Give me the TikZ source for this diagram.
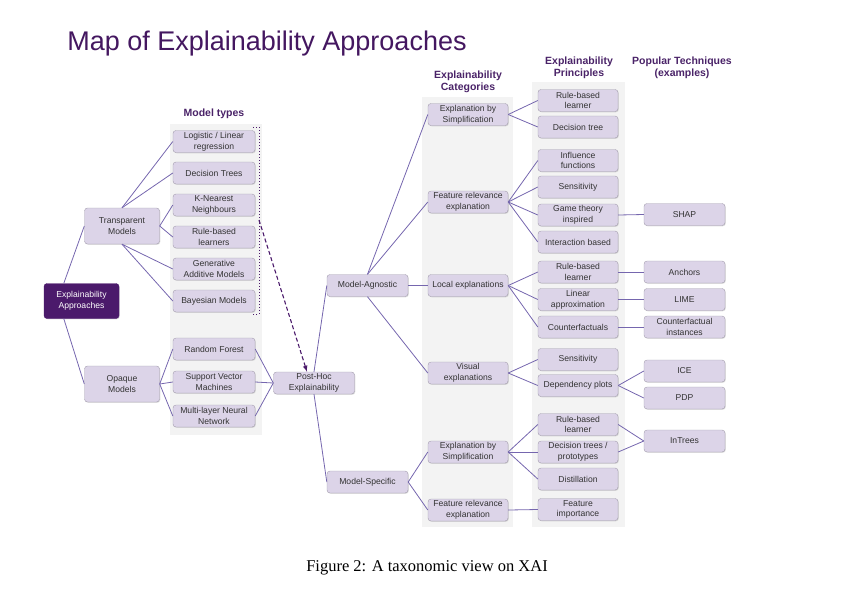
\documentclass[tikz,border=0pt]{standalone}
\usepackage{fontspec}
\setmainfont{Liberation Sans}
\newfontfamily\capfont{Liberation Serif}
\usepackage{xcolor}
\usepackage{tikz}
\usetikzlibrary{shadows}

\definecolor{boxfill}{HTML}{DCD4E8}
\definecolor{boxline}{HTML}{A39DAD}
\definecolor{edgecol}{HTML}{7566AE}
\definecolor{headcol}{HTML}{4A2368}
\definecolor{darkcol}{HTML}{4B1A6B}
\definecolor{colbg}{HTML}{F3F3F3}
\definecolor{txtcol}{HTML}{333333}

\begin{document}
\begin{tikzpicture}[x=1pt,y=-1pt,
  box/.style={rectangle,rounded corners=3pt,draw=boxline,fill=boxfill,text=txtcol,
    align=center,inner sep=1pt,minimum width=80pt,minimum height=22pt,
    font=\fontsize{8.6}{10.6}\selectfont,
    drop shadow={shadow xshift=0.8pt,shadow yshift=-0.8pt,opacity=0.25}},
  wide/.style={box,minimum width=75pt,minimum height=36pt},
  dark/.style={wide,fill=darkcol,draw=darkcol,text=white},
  head/.style={align=center,text=headcol,font=\fontsize{10.5}{12}\selectfont\bfseries},
  edge/.style={draw=edgecol,line width=0.8pt}]
\useasboundingbox (0,0) rectangle (856,590);
% column backgrounds
\fill[colbg] (170,124) rectangle (262,435);
\fill[colbg] (422,97) rectangle (513,527);
\fill[colbg] (532,82) rectangle (625,527);
% title, caption and headers
\node (t) at (267,44) [text=darkcol!90!black,font=\fontsize{27}{30}\selectfont] {Map of Explainability Approaches};
\node (c) at (427,568) [font=\fontsize{16.5}{18}\selectfont\capfont] {Figure 2: A taxonomic view on XAI};
\node (h1) at (214,114) [head] {Model types};
\node (h2) at (468,82) [head] {Explainability\\Categories};
\node (h3) at (579,68) [head] {Explainability\\Principles};
\node (h4) at (682,68) [head] {Popular Techniques\\(examples)};
% root and model types
\node (1) at (81.5,301) [dark,minimum height=35pt] {Explainability\\Approaches};
\node (2) at (122,226) [wide] {Transparent\\Models};
\node (3) at (122,384) [wide] {Opaque\\Models};
\node (4) at (214,141.5) [box,minimum width=82pt] {Logistic / Linear\\regression};
\node (5) at (214,173) [box,minimum width=82pt] {Decision Trees};
\node (6) at (214,205) [box,minimum width=82pt] {K-Nearest\\Neighbours};
\node (7) at (214,237) [box,minimum width=82pt] {Rule-based\\learners};
\node (8) at (214,269) [box,minimum width=82pt] {Generative\\Additive Models};
\node (9) at (214,301) [box,minimum width=82pt] {Bayesian Models};
\node (10) at (214,349) [box,minimum width=82pt] {Random Forest};
\node (11) at (214,382) [box,minimum width=82pt] {Support Vector\\Machines};
\node (12) at (214,416) [box,minimum width=82pt] {Multi-layer Neural\\Network};
\node (13) at (314,383) [box,minimum width=81pt] {Post-Hoc\\Explainability};
\node (14) at (367.5,285.5) [box,minimum width=81pt] {Model-Agnostic};
\node (15) at (367.5,482) [box,minimum width=81pt] {Model-Specific};
% categories
\node (16) at (468,114.5) [box] {Explanation by\\Simplification};
\node (17) at (468,202) [box] {Feature relevance\\explanation};
\node (18) at (468,285.5) [box] {Local explanations};
\node (19) at (468,373) [box] {Visual\\explanations};
\node (20) at (468,452) [box] {Explanation by\\Simplification};
\node (21) at (468,510) [box] {Feature relevance\\explanation};
% principles
\node (22) at (578,100.5) [box] {Rule-based\\learner};
\node (23) at (578,127) [box] {Decision tree};
\node (24) at (578,160.5) [box] {Influence\\functions};
\node (25) at (578,187) [box] {Sensitivity};
\node (26) at (578,215) [box] {Game theory\\inspired};
\node (27) at (578,242) [box] {Interaction based};
\node (28) at (578,272) [box] {Rule-based\\learner};
\node (29) at (578,299.5) [box] {Linear\\approximation};
\node (30) at (578,327) [box] {Counterfactuals};
\node (31) at (578,359.5) [box] {Sensitivity};
\node (32) at (578,385.5) [box] {Dependency plots};
\node (33) at (578,424.5) [box] {Rule-based\\learner};
\node (34) at (578,452) [box] {Decision trees /\\prototypes};
\node (35) at (578,479) [box] {Distillation};
\node (36) at (578,509.5) [box] {Feature\\importance};
% techniques
\node (37) at (684.5,214.5) [box,minimum width=81pt] {SHAP};
\node (38) at (684.5,272) [box,minimum width=81pt] {Anchors};
\node (39) at (684.5,299.5) [box,minimum width=81pt] {LIME};
\node (40) at (684.5,327) [box,minimum width=81pt] {Counterfactual\\instances};
\node (41) at (684.5,371) [box,minimum width=81pt] {ICE};
\node (42) at (684.5,398) [box,minimum width=81pt] {PDP};
\node (43) at (684.5,441) [box,minimum width=81pt] {InTrees};
% connectors
\draw[edge] (1.135) -- (2.west);
\draw[edge] (1.225) -- (3.west);
\draw[edge] (2.north) -- (4.west);
\draw[edge] (2.north) -- (5.west);
\draw[edge] (2.east) -- (6.west);
\draw[edge] (2.east) -- (7.west);
\draw[edge] (2.south) -- (8.west);
\draw[edge] (2.south) -- (9.west);
\draw[edge] (3.east) -- (10.west);
\draw[edge] (3.east) -- (11.west);
\draw[edge] (3.east) -- (12.west);
\draw[edge] (10.east) -- (13.west);
\draw[edge] (11.east) -- (13.west);
\draw[edge] (12.east) -- (13.west);
\draw[edge] (13.north) -- (14.west);
\draw[edge] (13.south) -- (15.west);
\draw[edge] (14.north) -- (16.west);
\draw[edge] (14.north) -- (17.west);
\draw[edge] (14.east) -- (18.west);
\draw[edge] (14.south) -- (19.west);
\draw[edge] (15.east) -- (20.west);
\draw[edge] (15.east) -- (21.west);
\draw[edge] (16.east) -- (22.west);
\draw[edge] (16.east) -- (23.west);
\draw[edge] (17.east) -- (24.west);
\draw[edge] (17.east) -- (25.west);
\draw[edge] (17.east) -- (26.west);
\draw[edge] (17.east) -- (27.west);
\draw[edge] (18.east) -- (28.west);
\draw[edge] (18.east) -- (29.west);
\draw[edge] (18.east) -- (30.west);
\draw[edge] (19.east) -- (31.west);
\draw[edge] (19.east) -- (32.west);
\draw[edge] (20.east) -- (33.west);
\draw[edge] (20.east) -- (34.west);
\draw[edge] (20.east) -- (35.west);
\draw[edge] (21.east) -- (36.west);
\draw[edge] (26.east) -- (37.west);
\draw[edge] (28.east) -- (38.west);
\draw[edge] (29.east) -- (39.west);
\draw[edge] (30.east) -- (40.west);
\draw[edge] (32.east) -- (41.west);
\draw[edge] (32.east) -- (42.west);
\draw[edge] (33.east) -- (43.west);
\draw[edge] (34.east) -- (43.west);
% dotted bracket and dashed arrow
\draw[darkcol,dotted,line width=1pt] (253,127) -- (259,127) -- (259,314) -- (253,314);
\coordinate (b) at (259,220);
\draw[darkcol,dash pattern=on 4pt off 2.5pt,line width=1.1pt,-latex] (b) -- ([xshift=-7pt]13.north);
\end{tikzpicture}
\end{document}
